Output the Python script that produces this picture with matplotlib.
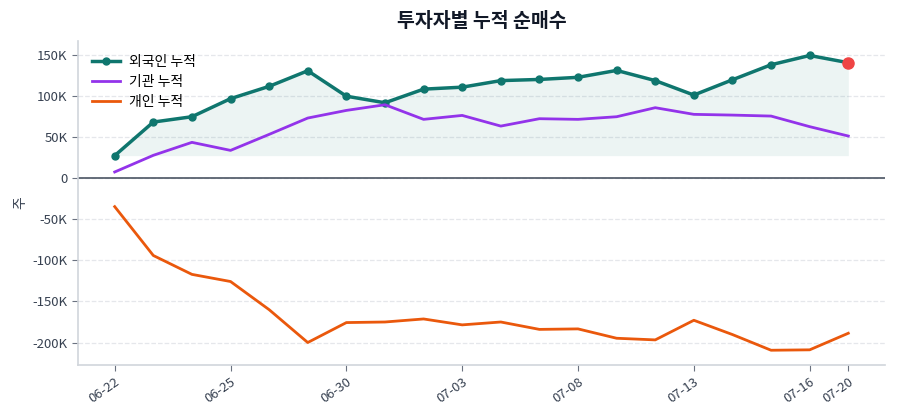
import matplotlib
matplotlib.use("Agg")
import matplotlib.pyplot as plt
from matplotlib.ticker import FuncFormatter
import numpy as np

plt.rcParams['font.family'] = ['Noto Sans CJK KR', 'DejaVu Sans']

dates = ["06-22", "06-23", "06-24", "06-25", "06-26", "06-29", "06-30", "07-01", "07-02", "07-03",
         "07-06", "07-07", "07-08", "07-09", "07-10", "07-13", "07-14", "07-15", "07-16", "07-20"]
foreign = [27.6, 68.5, 75.0, 97.0, 112.0, 131.0, 100.0, 92.0, 108.6, 111.0,
           119.0, 120.4, 123.0, 131.4, 119.0, 101.4, 120.0, 138.3, 149.6, 140.8]
institution = [7.7, 28.0, 43.8, 34.0, 53.5, 73.4, 82.7, 89.6, 71.8, 76.6,
               63.6, 72.6, 71.8, 75.0, 86.0, 77.9, 77.0, 75.8, 62.9, 51.5]
individual = [-34.5, -94.0, -117.0, -125.7, -160.0, -200.0, -175.7, -175.0, -171.3, -178.5,
              -175.0, -184.0, -183.4, -194.8, -196.8, -172.9, -190.3, -209.4, -208.9, -188.7]
tick_idx = [0, 3, 6, 9, 12, 15, 18, 19]

foreign_v = np.array(foreign) * 1000
inst_v = np.array(institution) * 1000
indiv_v = np.array(individual) * 1000
x = np.arange(len(dates))

teal = "#0f766e"
purple = "#9333ea"
orange = "#ea580c"

fig = plt.figure(figsize=(9, 4.2), dpi=100)
ax = fig.add_axes([0.0867, 0.131, 0.8966, 0.772])

ax.fill_between(x, foreign_v, foreign_v.min(), color=teal, alpha=0.08, linewidth=0)
ax.plot(x, foreign_v, color=teal, linewidth=2.5, marker='o', markersize=5, label="외국인 누적", zorder=3)
ax.plot(x, inst_v, color=purple, linewidth=2, label="기관 누적", zorder=3)
ax.plot(x, indiv_v, color=orange, linewidth=2, label="개인 누적", zorder=3)
ax.plot([x[-1]], [foreign_v[-1]], 'o', color="#ef4444", markersize=8, zorder=4)

ax.axhline(0, color="#4b5563", linewidth=1.2, zorder=2)

ax.set_xticks([x[i] for i in tick_idx])
ax.set_xticklabels([dates[i] for i in tick_idx], rotation=35, ha='right', rotation_mode='anchor')
ax.set_yticks([-200000, -150000, -100000, -50000, 0, 50000, 100000, 150000])
ax.yaxis.set_major_formatter(FuncFormatter(lambda v, p: "0" if v == 0 else f"{int(v/1000)}K"))
ax.tick_params(axis='both', colors="#6b7280", labelcolor="#374151", labelsize=9.5, length=4)

ax.grid(axis='y', linestyle='--', color="#e5e7eb", linewidth=0.9)
ax.set_axisbelow(True)
for s in ['top', 'right']:
    ax.spines[s].set_visible(False)
for s in ['left', 'bottom']:
    ax.spines[s].set_color("#d1d5db")
    ax.spines[s].set_linewidth(1.2)

ax.set_ylabel("주", color="#374151", fontsize=10)
ax.set_title("투자자별 누적 순매수", fontsize=14, fontweight='bold', color="#111827", pad=10)
ax.legend(loc='upper left', frameon=False, fontsize=10, handlelength=2.0, handletextpad=0.7,
          labelspacing=0.45, borderaxespad=0.6)

fig.savefig("out.png", dpi=100)
